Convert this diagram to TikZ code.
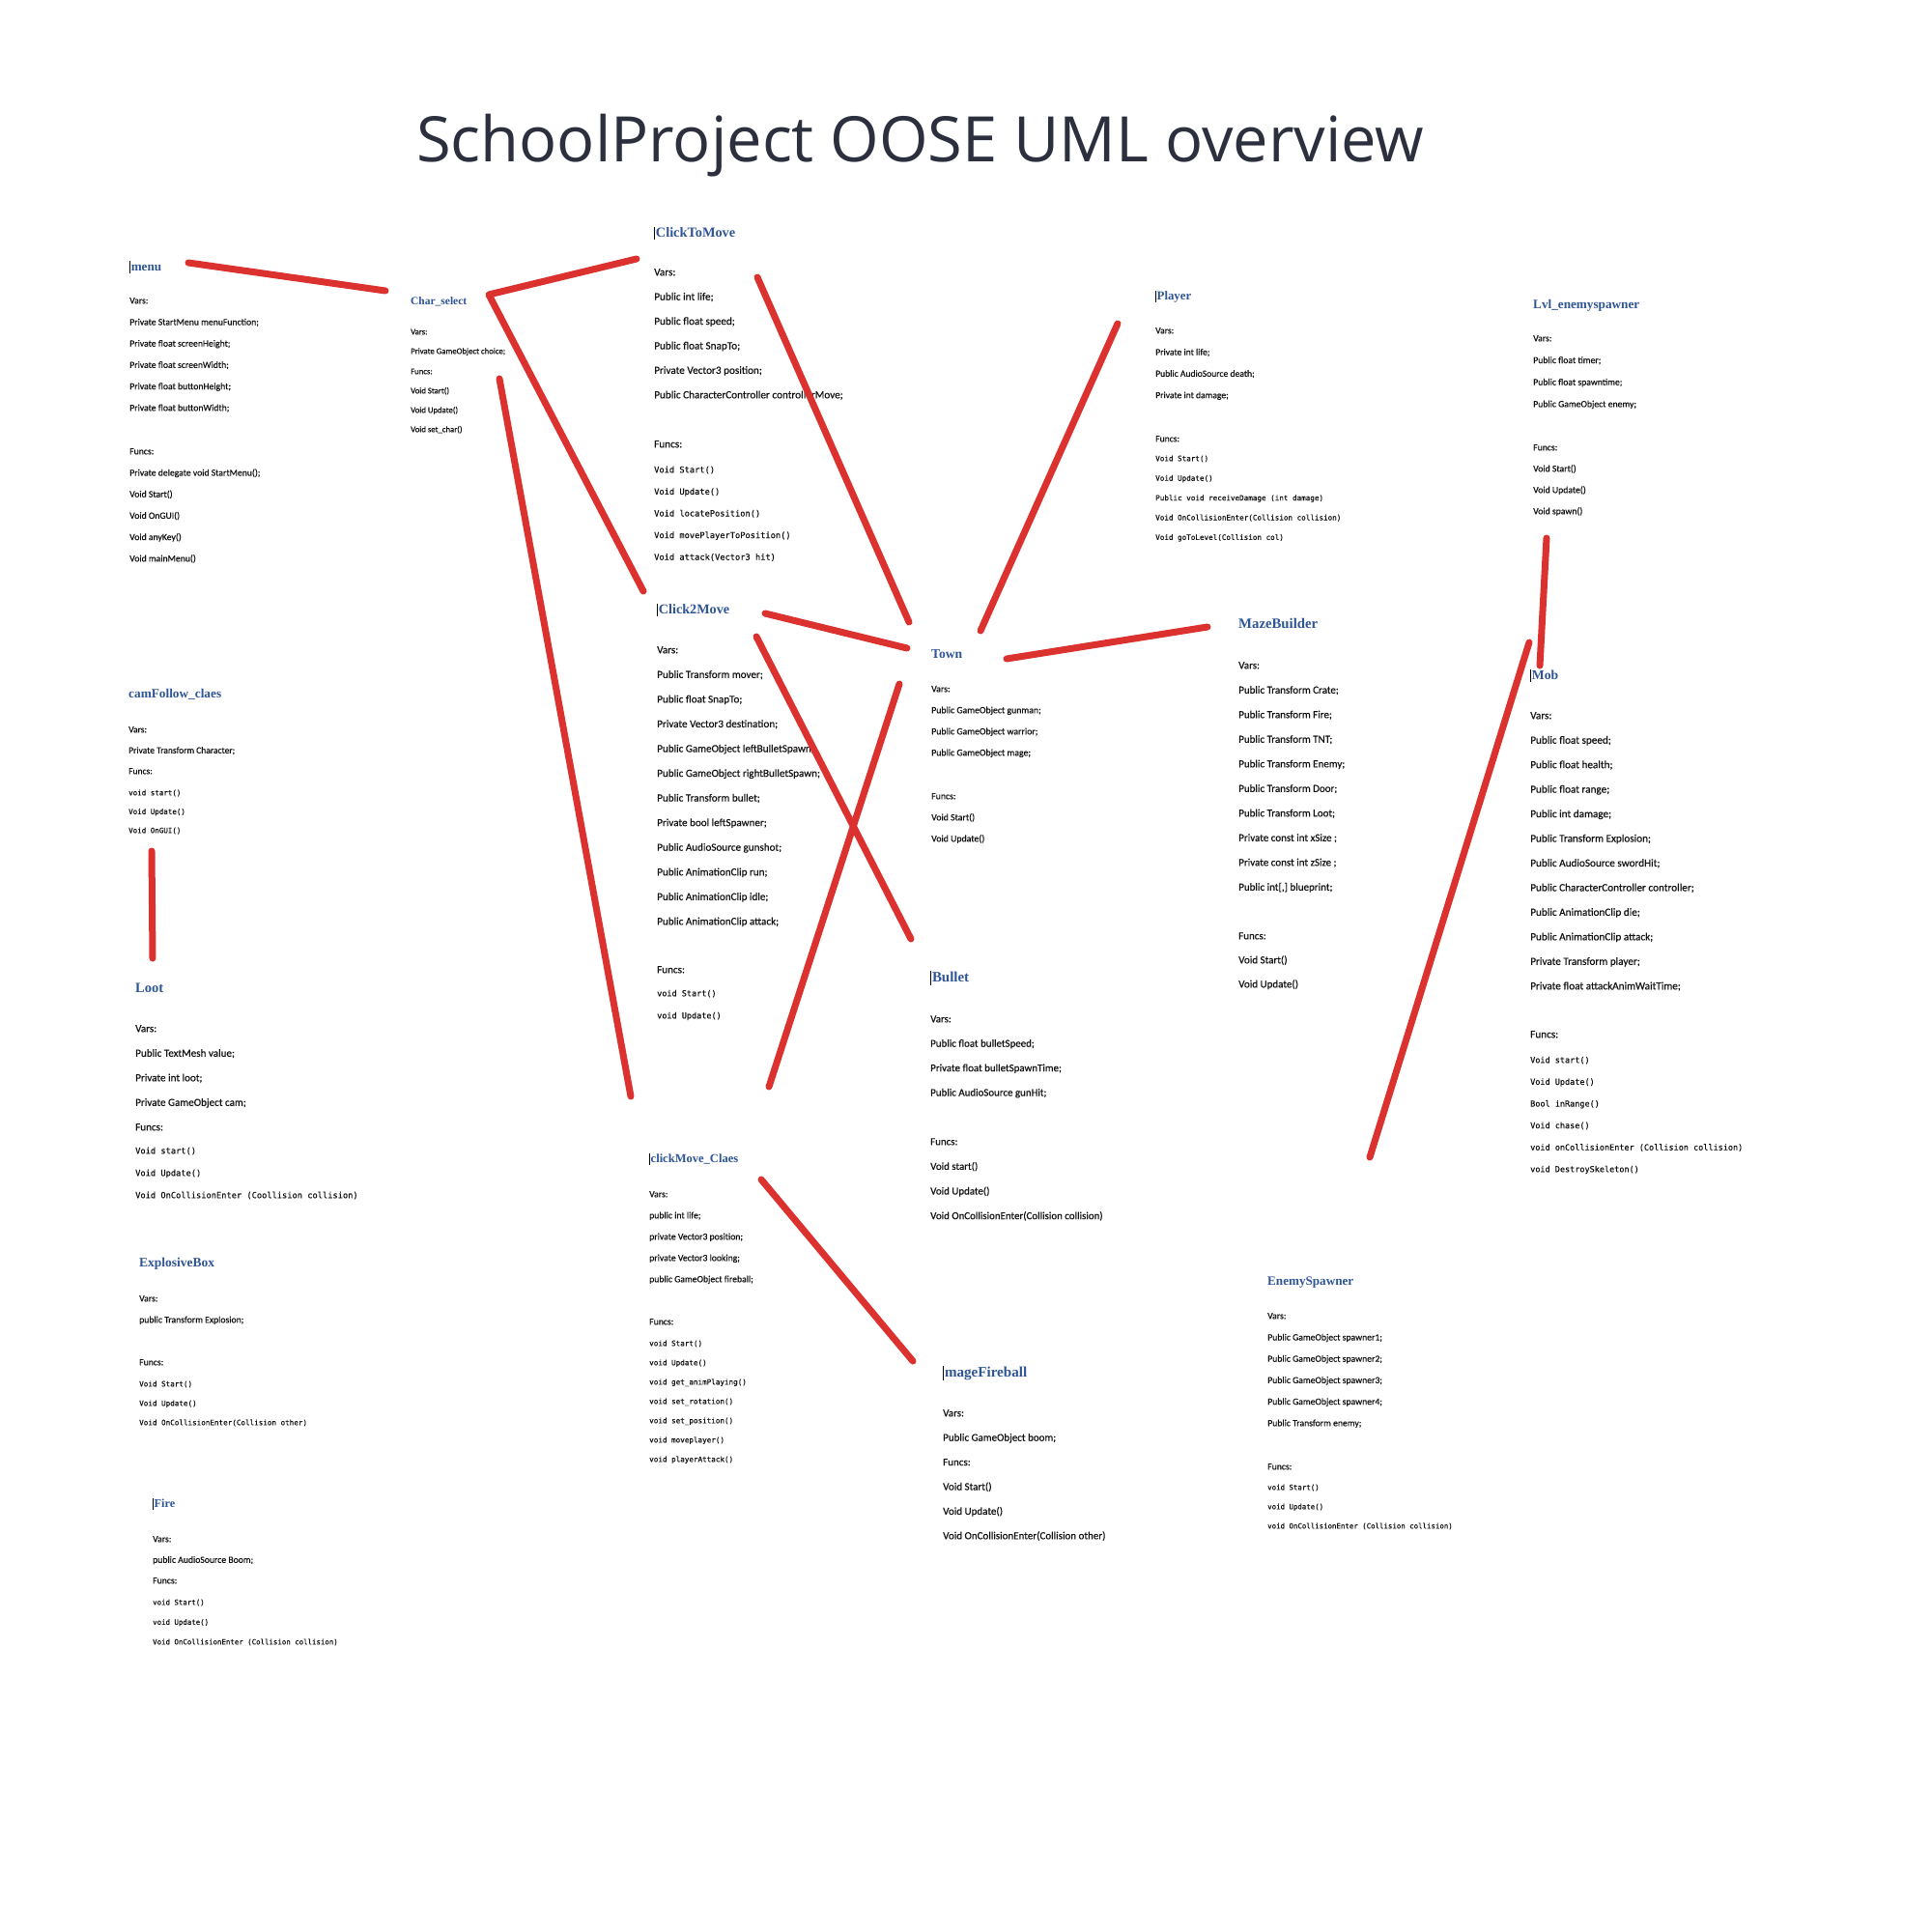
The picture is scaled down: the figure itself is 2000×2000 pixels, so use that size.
\documentclass[tikz,border=0pt]{standalone}
\usepackage{fontspec}
\usepackage{graphicx}
\newfontfamily\fCal{Carlito}[FakeBold=0.35]
\newfontfamily\fMono{DejaVu Sans Mono}[FakeBold=0.25]
\newfontfamily\fHead{Liberation Serif}
\newfontfamily\fTitle{Open Sans}
\newcommand\sz[1]{\fontsize{#1}{#1}\selectfont}
\newcommand\cbar{\textcolor{black}{\rule[-0.2em]{0.08em}{0.95em}}\hspace{0.04em}}
\newcommand\tw[2]{\resizebox{#1pt}{!}{#2}}
\newcommand\cl[6]{\foreach \t [count=\i] in {#6} {\node[txt,font=#5] (#1\i) at (#2,{#3+(\i-1)*(#4)+4.3}) {\t};}}
\definecolor{lred}{RGB}{220,50,47}
\definecolor{hblue}{HTML}{2F5597}
\definecolor{btxt}{HTML}{111111}
\definecolor{ttl}{HTML}{2B2F3E}
\begin{document}
\begin{tikzpicture}[x=1pt,y=-1pt,
  txt/.style={anchor=base west, inner sep=0pt, text=btxt},
  head/.style={anchor=base west, inner sep=0pt, text=hblue, font=\fHead\bfseries\sz{14}},
  redl/.style={draw=lred, line width=7pt, line cap=round, line join=round}]
\fill[white] (0,0) rectangle (2000,2000);
\useasboundingbox (0,0) rectangle (2000,2000);

\node[anchor=base west, inner sep=0pt, text=ttl, font=\fTitle\sz{60}] (title) at (431,167) {\tw{1043}{SchoolProject OOSE UML overview}};

% menu
\node[head] (menuT) at (134,280) {\tw{33}{\cbar menu}};
\cl{menuV}{134}{310}{22.2}{\fCal\sz{9.7}}{Vars:, Private StartMenu menuFunction;, Private float screenHeight;, Private float screenWidth;, Private float buttonHeight;, Private float buttonWidth;}
\cl{menuF}{134}{466}{22.2}{\fCal\sz{9.7}}{Funcs:, Private delegate void StartMenu();, Void Start(), Void OnGUI(), Void anyKey(), Void mainMenu()}

% Char_select
\node[head] (charT) at (425,315.5) {\tw{58}{Char\_select}};
\cl{charV}{425}{342}{20}{\fCal\sz{8.7}}{Vars:, Private GameObject choice;}
\cl{charF}{425}{383}{20}{\fCal\sz{8.7}}{Funcs:, Void Start(), Void Update(), Void set\_char()}

% ClickToMove
\node[head] (ctmT) at (677,245.5) {\tw{84}{\cbar ClickToMove}};
\cl{ctmV}{677}{281}{25.4}{\fCal\sz{11.2}}{Vars:, Public int life;, Public float speed;, Public float SnapTo;, Private Vector3 position;, Public CharacterController controllerMove;}
\node[txt,font=\fCal\sz{11.2}] (ctmFu) at (677,463.3) {Funcs:};
\cl{ctmF}{677}{485}{22.6}{\fMono\sz{8.7}}{Void Start(), Void Update(), Void locatePosition(), Void movePlayerToPosition(), Void attack(Vector3 hit)}

% Player
\node[head] (plT) at (1196,310.5) {\tw{37}{\cbar Player}};
\cl{plV}{1196}{341}{22.3}{\fCal\sz{9.6}}{Vars:, Private int life;, Public AudioSource death;, Private int damage;}
\node[txt,font=\fCal\sz{9.6}] (plFu) at (1196,457.3) {Funcs:};
\cl{plF}{1196}{473}{20.4}{\fMono\sz{7.6}}{Void Start(), Void Update(), Public void receiveDamage (int damage), Void OnCollisionEnter(Collision collision), Void goToLevel(Collision col)}

% Lvl_enemyspawner
\node[head] (lvlT) at (1587,319.5) {\tw{110}{Lvl\_enemyspawner}};
\cl{lvlV}{1587}{349}{22.7}{\fCal\sz{9.7}}{Vars:, Public float timer;, Public float spawntime;, Public GameObject enemy;}
\cl{lvlF}{1587}{462}{22}{\fCal\sz{9.7}}{Funcs:, Void Start(), Void Update(), Void spawn()}

% Click2Move
\node[head] (c2mT) at (680,635.5) {\tw{75}{\cbar Click2Move}};
\cl{c2mV}{680}{672}{25.55}{\fCal\sz{11.1}}{Vars:, Public Transform mover;, Public float SnapTo;, Private Vector3 destination;, Public GameObject leftBulletSpawn;, Public GameObject rightBulletSpawn;, Public Transform bullet;, Private bool leftSpawner;, Public AudioSource gunshot;, Public AnimationClip run;, Public AnimationClip idle;, Public AnimationClip attack;}
\node[txt,font=\fCal\sz{11.1}] (c2mFu) at (680,1007.3) {Funcs:};
\cl{c2mF}{680}{1027}{23}{\fMono\sz{8.5}}{void Start(), void Update()}

% Town
\node[head] (townT) at (964,681.5) {\tw{32}{Town}};
\cl{townV}{964}{712}{22}{\fCal\sz{9.8}}{Vars:, Public GameObject gunman;, Public GameObject warrior;, Public GameObject mage;}
\cl{townF}{964}{823}{22}{\fCal\sz{9.8}}{Funcs:, Void Start(), Void Update()}

% Bullet
\node[head] (bulT) at (963,1016.5) {\tw{40}{\cbar Bullet}};
\cl{bulV}{963}{1054}{25.4}{\fCal\sz{10.9}}{Vars:, Public float bulletSpeed;, Private float bulletSpawnTime;, Public AudioSource gunHit;}
\cl{bulF}{963}{1181}{25.6}{\fCal\sz{10.9}}{Funcs:, Void start(), Void Update(), Void OnCollisionEnter(Collision collision)}

% MazeBuilder
\node[head] (mazeT) at (1282,650.5) {\tw{82}{MazeBuilder}};
\cl{mazeV}{1282}{688}{25.5}{\fCal\sz{11}}{Vars:, Public Transform Crate;, Public Transform Fire;, Public Transform TNT;, Public Transform Enemy;, Public Transform Door;, Public Transform Loot;, Private const int xSize ;, Private const int zSize ;, {Public int[,] blueprint;}}
\cl{mazeF}{1282}{968}{25}{\fCal\sz{11}}{Funcs:, Void Start(), Void Update()}

% camFollow_claes
\node[head] (camT) at (133,722.5) {\tw{96}{camFollow\_claes}};
\cl{camV}{133}{754}{21.5}{\fCal\sz{9.5}}{Vars:, Private Transform Character;, Funcs:}
\cl{camF}{133}{819}{19.5}{\fMono\sz{7.5}}{void start(), Void Update(), Void OnGUI()}

% Loot
\node[head] (lootT) at (140,1027.5) {\tw{29}{Loot}};
\cl{lootV}{140}{1064}{25.5}{\fCal\sz{11.1}}{Vars:, Public TextMesh value;, Private int loot;, Private GameObject cam;, Funcs:}
\cl{lootF}{140}{1190}{23}{\fMono\sz{8.7}}{Void start(), Void Update(), Void OnCollisionEnter (Coollision collision)}

% Mob
\node[head] (mobT) at (1584,703.5) {\tw{29}{\cbar Mob}};
\cl{mobV}{1584}{740}{25.45}{\fCal\sz{11.2}}{Vars:, Public float speed;, Public float health;, Public float range;, Public int damage;, Public Transform Explosion;, Public AudioSource swordHit;, Public CharacterController controller;, Public AnimationClip die;, Public AnimationClip attack;, Private Transform player;, Private float attackAnimWaitTime;}
\node[txt,font=\fCal\sz{11.2}] (mobFu) at (1584,1074.3) {Funcs:};
\cl{mobF}{1584}{1096}{22.6}{\fMono\sz{8.5}}{Void start(), Void Update(), Bool inRange(), Void chase(), void onCollisionEnter (Collision collision), void DestroySkeleton()}

% clickMove_Claes
\node[head] (cmcT) at (672,1203.5) {\tw{92}{\cbar clickMove\_Claes}};
\cl{cmcV}{672}{1235}{22}{\fCal\sz{9.7}}{Vars:, public int life;, private Vector3 position;, private Vector3 looking;, public GameObject fireball;}
\node[txt,font=\fCal\sz{9.7}] (cmcFu) at (672,1371.3) {Funcs:};
\cl{cmcF}{672}{1389}{20}{\fMono\sz{7.6}}{void Start(), void Update(), void get\_animPlaying(), void set\_rotation(), void set\_position(), void moveplayer(), void playerAttack()}

% mageFireball
\node[head] (mfT) at (976,1425.5) {\tw{87}{\cbar mageFireball}};
\cl{mfV}{976}{1462}{25.4}{\fCal\sz{11}}{Vars:, Public GameObject boom;, Funcs:, Void Start(), Void Update(), Void OnCollisionEnter(Collision other)}

% ExplosiveBox
\node[head] (exT) at (144,1311.5) {\tw{78}{ExplosiveBox}};
\cl{exV}{144}{1343}{22}{\fCal\sz{9.7}}{Vars:, public Transform Explosion;}
\node[txt,font=\fCal\sz{9.7}] (exFu) at (144,1413.3) {Funcs:};
\cl{exF}{144}{1431}{20}{\fMono\sz{7.6}}{Void Start(), Void Update(), Void OnCollisionEnter(Collision other)}

% Fire
\node[head] (fireT) at (158,1560.5) {\tw{23}{\cbar Fire}};
\cl{fireV}{158}{1592}{21.5}{\fCal\sz{9.7}}{Vars:, public AudioSource Boom;, Funcs:}
\cl{fireF}{158}{1657}{20.5}{\fMono\sz{7.4}}{void Start(), void Update(), Void OnCollisionEnter (Collision collision)}

% EnemySpawner
\node[head] (esT) at (1312,1330.5) {\tw{89}{EnemySpawner}};
\cl{esV}{1312}{1361}{22.2}{\fCal\sz{9.7}}{Vars:, Public GameObject spawner1;, Public GameObject spawner2;, Public GameObject spawner3;, Public GameObject spawner4;, Public Transform enemy;}
\node[txt,font=\fCal\sz{9.7}] (esFu) at (1312,1521.3) {Funcs:};
\cl{esF}{1312}{1538}{20}{\fMono\sz{7.4}}{void Start(), void Update(), void OnCollisionEnter (Collision collision)}

% connector end points
\coordinate (menuE) at (195,272);
\coordinate (charW) at (399,301);
\coordinate (ctmW) at (659,268);
\coordinate (charNE) at (506,305);
\coordinate (c2mNW) at (666,612);
\coordinate (charS) at (517,392);
\coordinate (cmcN) at (653,1135);
\coordinate (ctmS) at (784,287);
\coordinate (townNW) at (941,644);
\coordinate (plS) at (1157,335);
\coordinate (townNE) at (1015,653);
\coordinate (c2mE) at (792,635);
\coordinate (townW) at (939,671);
\coordinate (c2mS) at (783,659);
\coordinate (bulN) at (943,972);
\coordinate (townS) at (931,708);
\coordinate (cmcNE) at (796,1125);
\coordinate (townE) at (1042,682);
\coordinate (mazeW) at (1250,649);
\coordinate (lvlS) at (1601,557);
\coordinate (mobN) at (1594,689);
\coordinate (mobW) at (1583,665);
\coordinate (esN) at (1418,1198);
\coordinate (camS) at (157,881);
\coordinate (lootN) at (158,992);
\coordinate (cmcE) at (788,1221);
\coordinate (mfN) at (945,1409);

\draw[redl] (menuE) -- (charW);
\draw[redl] (ctmW) -- (charNE) -- (c2mNW);
\draw[redl] (charS) -- (cmcN);
\draw[redl] (ctmS) -- (townNW);
\draw[redl] (plS) -- (townNE);
\draw[redl] (c2mE) -- (townW);
\draw[redl] (c2mS) -- (bulN);
\draw[redl] (townS) -- (cmcNE);
\draw[redl] (townE) -- (mazeW);
\draw[redl] (lvlS) -- (mobN);
\draw[redl] (mobW) -- (esN);
\draw[redl] (camS) -- (lootN);
\draw[redl] (cmcE) -- (mfN);
\end{tikzpicture}
\end{document}
